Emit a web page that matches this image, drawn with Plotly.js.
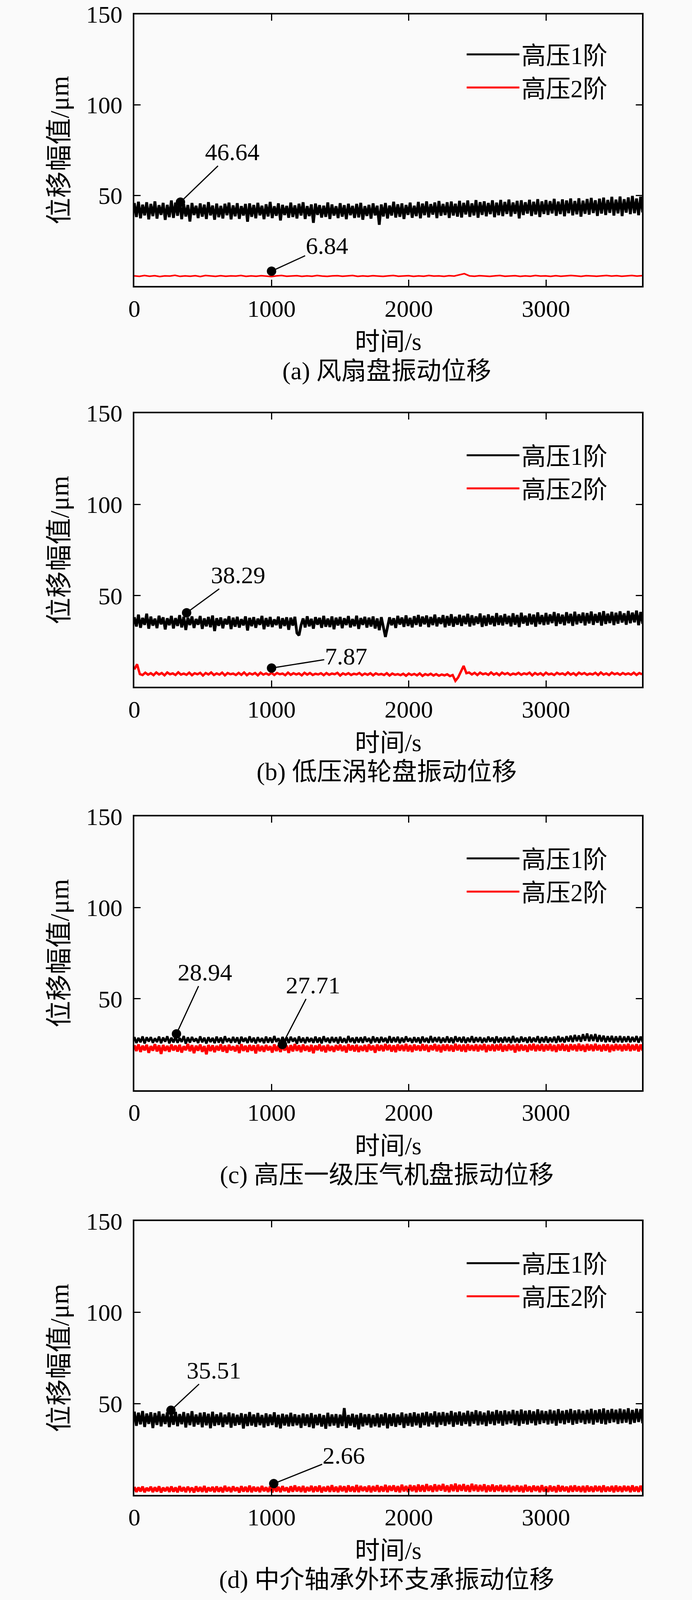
<!DOCTYPE html>
<html>
<head>
<meta charset="utf-8">
<script src="https://cdn.plot.ly/plotly-3.0.1.min.js"></script>
<style>html,body{margin:0;padding:0;background:#fafafa;overflow:hidden;}</style>
</head>
<body>
<div id="chart"></div>
<script>
// ---------------- DATA ----------------
const seriesNames = ['高压1阶', '高压2阶'];
const captions = ['(a) 风扇盘振动位移', '(b) 低压涡轮盘振动位移', '(c) 高压一级压气机盘振动位移', '(d) 中介轴承外环支承振动位移'];
const xTicks = [0, 1000, 2000, 3000];
const yTicks = [50, 100, 150];

// sampling step (s) of each series
const stepA1 = 15, stepA2 = 37, stepB1 = 15, stepB2 = 20, stepC1 = 15, stepC2 = 15, stepD1 = 15, stepD2 = 15;

// (a) fan disc
const A1 = [45.8,38.1,46.5,37.4,44.9,39.0,46.2,36.8,45.3,38.6,46.7,37.2,44.6,39.3,45.9,36.5,44.8,38.0,47.2,37.6,
46.0,38.8,47.4,36.9,45.2,38.4,44.7,35.6,45.8,39.2,44.3,37.5,45.6,38.3,44.9,37.0,46.3,39.0,44.4,36.6,
45.5,38.0,44.2,37.3,45.4,39.1,46.0,36.8,44.5,38.5,45.7,37.1,44.1,38.9,45.3,35.5,45.6,38.2,44.7,37.4,
45.9,39.0,44.3,36.9,45.1,38.4,46.4,37.5,44.0,38.8,45.6,36.2,44.8,39.2,44.2,37.7,46.0,38.1,44.5,37.3,
45.4,38.9,46.2,37.0,44.1,38.6,45.0,34.9,45.5,39.3,44.6,37.8,44.3,38.2,46.1,37.0,45.0,38.9,44.0,37.5,
45.7,38.3,44.6,36.9,45.4,39.1,44.2,37.6,45.3,37.9,45.9,36.6,44.1,38.7,44.8,37.2,45.6,39.0,44.3,33.8,
45.0,38.4,45.8,37.3,44.4,38.9,46.5,37.8,45.1,38.2,45.6,37.0,44.7,39.3,46.0,37.7,44.3,38.6,46.4,37.4,
45.5,39.1,46.7,37.9,45.2,39.4,46.1,37.5,46.9,38.8,45.3,39.2,46.2,37.6,46.6,38.9,45.4,38.3,47.0,37.8,
45.9,39.5,47.2,38.2,45.6,39.0,47.4,37.7,46.3,39.3,46.7,38.5,45.8,39.7,47.3,38.0,46.0,39.1,47.5,38.6,
46.4,39.8,47.7,38.4,46.1,39.9,47.0,37.3,47.3,39.2,46.2,40.0,47.6,38.7,46.5,39.5,47.9,38.1,46.7,39.8,
47.4,39.3,46.8,40.1,48.1,38.8,46.6,39.7,47.8,38.5,47.2,40.2,48.3,39.0,46.9,39.6,48.4,38.3,47.1,39.9,
48.0,39.4,48.6,40.3,47.3,38.7,48.2,40.0,48.8,39.2,47.5,40.4,49.2,38.9,47.7,40.1,49.4,38.6,47.9,40.5,
48.9,39.7,49.7,40.2,48.3,39.1,49.3,40.6];
const A2 = [5.6,5.3,5.8,5.4,5.7,5.2,5.6,5.5,5.9,5.3,5.6,5.4,5.7,5.2,5.8,5.5,5.3,5.7,5.4,5.6,
5.5,5.8,5.3,5.6,5.4,5.7,5.5,5.2,5.6,5.8,5.4,5.5,5.7,5.3,5.6,5.4,5.8,5.5,5.3,5.6,
5.7,5.4,5.5,5.8,5.3,5.6,5.4,5.7,5.5,5.3,5.6,5.8,5.4,5.5,5.7,5.3,5.6,5.4,5.8,5.5,
5.6,5.3,5.7,5.5,6.2,6.8,5.6,5.4,5.7,5.5,5.3,5.6,5.8,5.4,5.5,5.7,5.3,5.6,5.4,5.8,
5.5,5.6,5.3,5.7,5.4,5.5,5.8,5.6,5.3,5.7,5.5,5.4,5.6,5.8,5.5,5.7,5.4,5.6,5.8,5.5,5.7];

// (b) LP turbine disc
const B1 = [38.2,33.1,39.6,32.4,37.8,34.0,40.1,31.9,38.5,33.6,37.4,32.2,39.0,34.3,38.1,31.5,37.6,33.8,38.9,32.0,
37.7,33.4,39.3,32.6,38.4,31.2,37.9,33.9,38.6,32.3,37.2,34.1,38.8,31.8,37.5,33.2,38.3,32.7,39.1,30.6,
37.6,33.5,38.0,32.1,37.3,34.2,38.7,31.7,37.9,33.0,38.4,32.5,37.1,33.7,38.6,30.9,37.8,33.3,38.2,32.4,
37.4,34.0,38.9,31.6,37.7,33.1,38.3,32.8,37.0,33.9,38.5,32.0,37.6,33.4,38.1,31.3,37.9,33.6,38.4,29.5,
28.2,33.8,37.5,32.6,38.7,33.2,37.3,31.9,38.2,34.1,37.8,32.4,38.9,33.0,37.4,32.8,38.6,31.6,37.9,33.7,
38.3,32.2,37.6,33.9,38.8,32.6,37.2,33.3,39.0,31.8,37.7,34.0,38.4,32.5,37.9,33.1,38.6,32.0,37.5,31.1,
38.2,33.5,27.4,32.7,38.1,33.8,37.6,32.3,38.9,34.2,38.0,32.9,39.2,33.4,37.8,32.6,38.7,34.0,39.4,33.1,
38.5,34.3,39.1,32.8,38.3,33.9,39.6,33.2,38.0,34.5,39.3,32.7,38.8,33.6,39.8,33.0,38.4,34.1,39.5,33.4,
38.9,34.4,40.0,33.1,39.2,33.8,38.6,34.6,40.2,32.9,39.0,33.5,39.7,34.2,38.8,33.3,40.4,34.0,39.1,33.7,
39.9,34.5,38.9,33.2,40.3,34.1,39.4,32.8,40.6,34.7,39.0,33.6,40.1,34.3,39.6,33.0,40.8,34.4,39.3,33.9,
40.5,34.2,39.7,35.0,41.0,33.4,40.2,34.6,39.5,33.8,40.9,34.9,40.0,33.5,41.2,34.3,39.8,35.1,40.7,33.7,
40.4,34.8,41.3,34.0,39.9,35.2,40.8,33.6,41.5,34.5,40.1,35.0,41.1,33.9,40.6,34.7,41.4,35.3,40.3,34.1,
41.6,34.9,40.7,35.4,41.8,33.8,41.0,34.6];
const B2 = [9.6,12.4,7.0,6.5,7.8,6.7,7.5,6.4,7.9,6.8,7.6,6.3,7.9,6.9,7.4,6.5,8.0,6.7,7.3,6.6,
7.8,6.4,7.5,6.9,7.7,6.2,7.6,6.8,7.9,6.5,7.4,6.7,7.8,6.3,7.6,6.9,7.3,6.5,7.7,6.6,
7.9,6.4,7.5,6.8,7.6,6.3,7.8,6.7,7.4,6.6,7.7,6.5,7.6,6.9,7.3,6.4,7.8,6.6,7.5,6.8,
7.4,6.3,7.7,6.7,7.6,6.5,7.2,6.8,7.5,6.4,7.6,6.6,7.3,6.9,7.7,6.2,7.4,6.7,7.5,6.5,
7.2,6.8,7.6,6.4,7.3,6.6,7.5,6.3,7.4,6.7,7.1,6.5,7.5,6.2,7.3,6.6,7.0,6.4,7.2,6.1,
7.3,6.5,7.1,6.3,7.4,6.0,7.0,6.4,7.2,6.2,7.0,6.1,6.8,6.3,6.9,5.9,6.5,3.3,5.2,8.6,
11.5,7.5,7.9,6.8,7.7,6.5,7.8,6.9,7.4,6.6,7.9,6.7,7.5,6.4,7.8,6.9,7.6,6.5,7.3,6.8,
7.7,6.6,7.4,6.9,7.8,6.3,7.6,6.7,7.5,6.4,7.8,6.8,7.3,6.5,7.7,6.9,7.4,6.6,7.9,6.7,
7.5,6.4,7.8,6.9,7.6,6.6,7.3,6.8,7.7,6.5,7.9,6.7,7.4,6.5,7.8,6.9,7.5,6.6,7.6,6.8,
7.4,6.7,7.8,6.5,7.6,6.9];

// (c) HP 1st-stage compressor disc
const C1 = [29.1,25.8,28.6,26.2,29.4,25.5,28.9,26.6,29.0,25.9,28.4,26.3,29.3,25.7,28.8,26.5,29.5,25.6,28.7,26.1,
29.2,25.9,28.5,26.4,29.6,25.4,28.9,26.0,29.1,26.6,28.3,25.8,29.4,26.2,28.7,25.5,29.0,26.3,28.6,25.7,
29.3,26.0,28.8,25.6,29.5,26.4,28.4,25.9,29.1,26.1,28.9,25.3,29.2,26.5,28.6,25.8,29.4,26.2,28.7,25.6,
29.0,26.3,28.5,25.7,29.3,26.0,28.8,25.9,29.6,26.4,28.4,25.5,29.1,26.2,28.9,25.8,29.2,26.6,28.6,25.4,
29.4,26.1,28.7,25.7,29.0,26.3,28.5,25.9,29.3,26.0,28.8,25.6,29.5,26.4,28.6,25.8,29.1,26.2,28.9,25.5,
29.2,26.0,28.4,25.8,29.6,26.3,28.7,25.7,29.0,26.1,28.9,25.9,29.3,26.5,28.5,25.6,29.4,26.2,28.8,25.9,
29.1,26.4,28.6,25.8,29.5,26.0,28.9,26.3,29.2,25.7,28.7,26.1,29.4,26.6,28.5,25.9,29.0,26.2,28.8,25.6,
29.3,26.3,28.6,25.9,29.6,26.1,28.9,26.4,29.1,25.8,28.7,26.2,29.4,26.0,28.8,25.7,29.5,26.5,28.9,26.1,
29.2,25.8,28.7,26.3,29.5,26.0,28.9,26.4,29.0,25.9,28.6,26.2,29.3,26.5,28.8,25.7,29.4,26.1,28.7,26.0,
29.1,26.3,28.9,25.8,29.6,26.2,28.6,26.0,29.3,26.5,28.8,25.9,29.2,26.1,28.7,26.4,29.5,25.8,28.9,26.2,
29.4,26.0,28.8,26.3,29.2,25.9,29.6,26.4,28.9,26.1,29.5,26.6,29.8,26.3,30.2,26.8,29.9,26.5,30.6,27.0,
31.0,26.7,30.4,26.9,30.7,26.4,30.1,26.6,29.8,26.2,29.5,26.5,29.7,26.0,29.4,26.3,29.6,26.1,29.3,26.4,
29.5,26.2,29.1,26.5,29.6,26.0,29.3,26.3];
const C2 = [24.6,21.4,25.0,20.9,24.3,21.8,24.8,20.4,24.1,21.6,25.1,21.2,24.5,19.8,24.7,21.5,24.2,21.0,24.9,21.7,
24.4,21.1,24.8,20.6,24.0,21.9,25.2,21.3,24.6,20.2,24.3,21.6,24.9,21.0,24.1,19.6,24.7,21.4,24.5,20.8,
24.2,21.7,25.0,21.1,24.4,20.5,24.8,21.8,24.0,21.2,24.6,20.3,25.1,21.5,24.3,20.9,24.7,21.6,24.5,20.1,
24.9,21.3,24.2,21.0,24.7,21.8,24.1,20.6,25.0,21.4,24.4,20.9,24.8,21.7,24.3,20.4,24.6,21.2,25.2,21.5,
24.5,20.8,24.9,21.6,24.2,21.1,24.7,20.2,24.4,21.9,25.0,21.3,24.3,20.7,24.8,21.5,24.1,21.0,24.6,21.8,
24.9,21.4,24.3,20.6,25.1,21.7,24.5,21.2,24.8,20.9,24.2,21.5,24.7,21.0,25.0,21.8,24.4,20.5,24.9,21.6,
24.6,21.3,25.2,21.9,24.8,21.1,24.5,20.8,25.0,21.6,24.7,21.4,25.3,21.2,24.6,20.9,24.9,21.8,24.4,21.5,
25.1,21.7,24.8,21.0,24.5,21.9,25.2,21.3,24.7,20.7,24.9,21.6,25.0,21.4,24.6,21.1,25.3,21.8,24.8,21.2,
24.9,20.9,25.1,21.7,24.6,21.5,25.0,21.2,24.8,21.9,25.2,20.8,24.7,21.6,25.0,21.3,24.9,21.8,25.3,21.1,
24.7,21.5,25.1,21.9,24.8,20.6,25.2,21.4,24.9,21.7,24.6,21.0,25.0,21.8,25.3,21.3,24.8,21.6,25.1,21.2,
24.9,21.8,25.2,21.4,24.7,20.9,25.0,21.7,25.3,21.5,24.8,21.1,25.1,21.9,24.9,21.3,25.4,21.6,24.8,21.0,
25.2,21.7,24.9,21.4,25.3,21.8,24.7,21.2,25.0,21.6,25.1,20.8,24.8,21.5,25.2,21.9,24.9,21.3,25.0,21.7,
25.3,21.4,24.8,21.8,25.1,21.2,24.9,21.6];

// (d) intershaft bearing outer-ring support
const D1 = [45.6,37.8,45.0,38.6,45.9,37.2,44.5,38.9,45.2,36.6,44.8,38.3,45.7,37.5,44.3,38.8,45.1,37.1,44.7,38.4,
45.4,37.6,44.2,38.7,45.3,36.9,44.6,38.2,45.8,37.4,44.0,38.5,44.9,37.0,45.2,38.1,44.4,36.5,45.5,37.8,
44.1,38.3,45.0,37.2,43.9,38.6,45.1,36.8,44.5,37.9,43.8,38.4,44.7,36.3,44.2,37.7,45.3,38.0,44.0,37.3,
44.8,38.2,43.7,36.9,44.6,37.8,44.0,38.3,45.2,37.1,43.8,36.4,44.4,38.0,43.9,37.5,44.9,37.7,44.1,38.1,
43.7,36.7,44.5,37.9,44.0,37.2,44.7,36.5,43.8,38.2,44.3,37.4,43.6,36.2,44.9,37.6,44.0,38.0,44.2,36.8,
43.9,37.7,47.5,36.6,43.7,37.9,44.4,37.1,43.8,35.9,44.7,37.5,44.0,38.2,44.2,36.9,43.6,37.6,44.5,37.0,
44.0,38.0,44.8,36.4,44.1,37.8,44.6,37.3,43.9,38.3,45.1,36.7,44.3,37.9,44.7,37.4,45.2,38.1,44.4,36.8,
44.9,38.2,45.4,37.5,44.6,38.6,45.7,37.1,45.0,38.4,45.3,37.8,44.8,38.7,45.9,37.3,45.1,38.5,45.6,37.9,
44.9,38.8,46.0,37.6,45.4,39.0,46.3,38.1,45.7,38.6,45.0,37.7,46.1,38.9,45.5,38.2,46.4,39.1,45.8,37.9,
46.2,38.7,45.6,39.2,46.5,38.3,45.9,37.8,46.7,39.0,46.0,38.5,46.3,39.3,45.7,38.1,46.8,38.8,46.1,39.4,
45.8,38.6,46.6,39.1,46.1,37.9,46.9,39.3,46.0,38.7,46.4,39.5,47.0,38.4,46.2,39.0,46.7,39.6,45.9,38.8,
46.5,39.2,47.1,38.5,46.3,39.7,46.8,39.0,47.3,38.6,46.4,39.4,47.0,39.8,46.6,38.9,47.2,39.3,46.7,39.6,
47.4,38.7,46.5,39.5,47.1,39.9,46.9,39.2];
const D2 = [4.3,1.6,4.0,1.9,4.5,1.4,3.8,2.1,4.4,1.5,4.1,1.8,4.6,1.3,3.9,2.0,4.2,1.6,4.5,1.7,
4.0,1.4,4.7,1.9,4.1,1.5,4.4,2.2,3.9,1.3,4.6,1.8,4.2,1.6,4.8,1.4,4.0,2.0,4.3,1.5,
4.5,1.7,4.1,1.4,4.9,1.9,4.2,1.5,4.6,2.1,4.0,1.3,4.7,1.8,4.3,1.6,5.0,1.4,4.4,1.9,
4.2,1.5,4.8,2.0,4.1,1.6,4.5,1.3,4.9,1.8,4.3,1.5,4.7,2.1,4.0,1.4,4.6,1.7,5.1,1.9,
4.4,1.6,4.8,1.4,4.2,2.0,4.9,1.5,4.5,1.8,5.0,1.3,4.3,1.9,4.7,1.6,5.2,1.7,4.4,1.5,
4.9,2.0,4.6,1.4,5.1,1.8,4.5,1.6,5.3,1.5,4.8,2.1,4.4,1.7,5.0,1.4,4.7,1.9,5.2,1.6,
4.6,1.8,5.4,1.5,4.9,2.2,5.1,1.7,4.7,1.4,5.5,1.9,4.8,1.6,5.3,2.0,5.0,1.5,5.6,1.8,
5.2,1.7,5.8,2.1,5.0,1.6,5.7,1.9,5.3,2.3,5.9,1.8,5.1,1.5,5.6,2.0,6.1,1.7,5.4,2.2,
5.8,1.9,5.2,1.6,6.0,2.1,5.5,1.8,5.3,2.0,5.7,1.5,5.1,1.9,5.6,1.7,5.0,2.1,5.4,1.6,
4.9,1.8,5.3,1.5,4.7,2.0,5.1,1.7,4.8,1.4,5.4,1.9,4.6,1.6,5.0,2.1,4.7,1.5,5.2,1.8,
4.5,1.6,5.0,1.9,4.6,1.4,5.2,1.8,4.8,2.0,4.4,1.5,4.9,1.7,5.1,1.9,4.6,1.6,4.8,1.4,
5.0,1.8,4.5,1.6,4.9,2.0,4.7,1.5,5.1,1.7,4.4,1.9,4.8,1.4,5.0,1.8,4.6,1.6,4.9,2.0,
4.7,1.5,5.1,1.8,4.5,1.6,4.9,1.7];

// marked points (time s, value as drawn) and their labels
const markTA = [336, 1000], markVA = [46.3, 8.2], labelA = ['46.64', '6.84'];
const markTB = [381, 1000], markVB = [40.6, 10.3], labelB = ['38.29', '7.87'];
const markTC = [307, 1079], markVC = [30.8, 25.0], labelC = ['28.94', '27.71'];
const markTD = [267, 1016], markVD = [46.3, 6.1], labelD = ['35.51', '2.66'];

// ---------------- LAYOUT / STYLE ----------------
const FONT = "'Liberation Serif', 'Noto Sans CJK SC', serif";
const REF_H = 4151;
const W = window.innerWidth > 0 ? window.innerWidth : 1772;
const H = window.innerHeight > 0 ? window.innerHeight : REF_H;
const SY = H / REF_H, SX = W / 1772;
document.getElementById('chart').style.width = W + 'px';
document.getElementById('chart').style.height = H + 'px';

const panelTops = [37, 1072, 2118, 3168];
const panelBottoms = [742, 1782, 2828, 3878];
const plotL = 344, plotR = 1644;
const labelOffsets = [ [[133,-130],[142,-66]], [[132,-98],[191,-31]], [[73,-160],[79,-154]], [[110,-104],[180,-73]] ];
const legendTops = [93, 1133, 2179, 3229];
const captionMid = [962, 2002, 3048, 4098];
const blackWidths = [7, 7, 6, 7];
const redWidths = [4, 6, 7, 7];
const LEG_ITEM_W = 135;

const panels = [
  {h1:A1, s1:stepA1, h2:A2, s2:stepA2, mt:markTA, mv:markVA, lab:labelA},
  {h1:B1, s1:stepB1, h2:B2, s2:stepB2, mt:markTB, mv:markVB, lab:labelB},
  {h1:C1, s1:stepC1, h2:C2, s2:stepC2, mt:markTC, mv:markVC, lab:labelC},
  {h1:D1, s1:stepD1, h2:D2, s2:stepD2, mt:markTD, mv:markVD, lab:labelD}
];

const traces = [];
const layout = {
  width: W, height: H,
  margin: {l:0, r:0, t:0, b:0},
  paper_bgcolor: '#fafafa', plot_bgcolor: '#fafafa',
  font: {family: FONT, color: '#000', size: 62},
  annotations: [], showlegend: true
};

panels.forEach((p, i) => {
  const k = i === 0 ? '' : String(i + 1);
  const xa = 'x' + k, ya = 'y' + k;
  const lg = 'legend' + k;
  const dom = [1 - panelBottoms[i] / REF_H, 1 - panelTops[i] / REF_H];

  traces.push({type:'scatter', mode:'lines', name: seriesNames[0], x0:0, dx:p.s1, y:p.h1,
    xaxis:xa, yaxis:ya, legend:lg, line:{color:'#000000', width:blackWidths[i]}});
  traces.push({type:'scatter', mode:'lines', name: seriesNames[1], x0:0, dx:p.s2, y:p.h2,
    xaxis:xa, yaxis:ya, legend:lg, line:{color:'#ff0000', width:redWidths[i]}});
  traces.push({type:'scatter', mode:'markers', x:p.mt, y:p.mv, xaxis:xa, yaxis:ya,
    showlegend:false, hoverinfo:'skip', marker:{color:'#000', size:24}});

  const axCommon = {
    showline:true, linewidth:4, linecolor:'#000', mirror:'ticks',
    ticks:'inside', ticklen:16, tickwidth:3, tickcolor:'#000',
    showgrid:false, zeroline:false, ticklabeloverflow:'allow',
    tickfont:{family:FONT, size:62, color:'#000'}
  };
  layout['xaxis' + k] = Object.assign({}, axCommon, {
    domain:[plotL / 1772, plotR / 1772], anchor: ya, range:[0, 3700],
    tickmode:'array', tickvals:xTicks, ticklabelstandoff: 0,
    title:{text:'时间/s', font:{family:FONT, size:64, color:'#000'}, standoff: 30}
  });
  layout['yaxis' + k] = Object.assign({}, axCommon, {
    domain: dom, anchor: xa, range:[0, 150],
    tickmode:'array', tickvals:yTicks, ticklabelstandoff: 14,
    title:{text:'位移幅值/μm', font:{family:FONT, size:68, color:'#000'}, standoff: 24}
  });
  layout[lg] = {
    x: (1339 - LEG_ITEM_W - 14) / 1772, xanchor:'left',
    y: 1 - legendTops[i] / REF_H, yanchor:'top',
    itemwidth: LEG_ITEM_W, itemsizing:'constant',
    bgcolor:'rgba(0,0,0,0)', borderwidth:0,
    font:{family:FONT, size:63, color:'#000'}
  };
  p.lab.forEach((t, j) => {
    layout.annotations.push({
      xref: xa, yref: ya, x: p.mt[j], y: p.mv[j], text: t,
      showarrow:true, arrowhead:0, arrowwidth:3, arrowcolor:'#000',
      ax: labelOffsets[i][j][0] * SX, ay: labelOffsets[i][j][1] * SY,
      font:{family:FONT, size:62, color:'#000'}
    });
  });
  layout.annotations.push({
    xref:'paper', yref:'paper', x: 991 / 1772, y: 1 - captionMid[i] / REF_H,
    xanchor:'center', yanchor:'middle', showarrow:false,
    text: captions[i], font:{family:FONT, size:64, color:'#000'}
  });
});

Plotly.newPlot('chart', traces, layout, {staticPlot:true});
</script>
</body>
</html>
